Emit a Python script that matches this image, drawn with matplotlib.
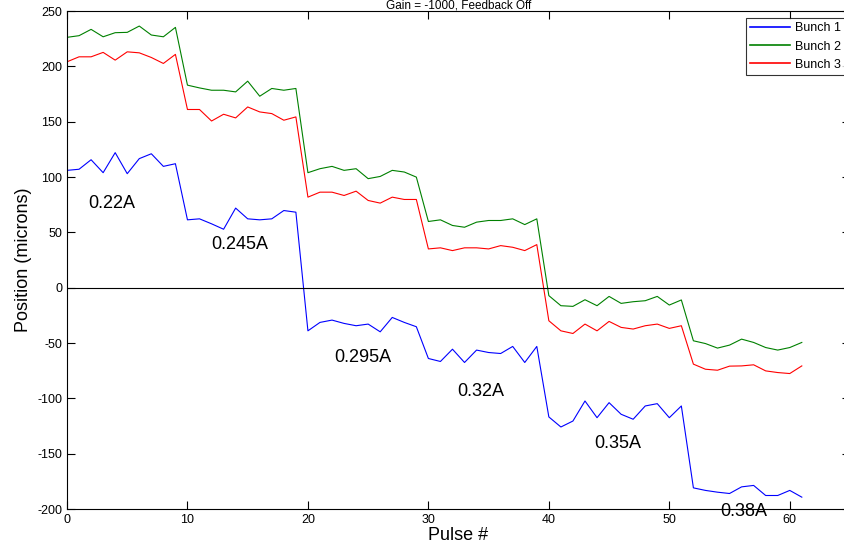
import matplotlib
matplotlib.use("Agg")
import matplotlib.pyplot as plt
import numpy as np

plt.rcParams['font.family'] = ['Liberation Sans', 'DejaVu Sans']
plt.rcParams['axes.unicode_minus'] = False

pulse = list(range(62))

bunch1 = [106, 107, 115.6, 103.9, 122, 103, 116.6, 121, 109.6, 112,
          61.3, 62.2, 57.7, 52.8, 71.9, 62.2, 61.3, 62.2, 69.7, 68.2,
          -39, -31.4, -29.3, -32.3, -34.4, -32.9, -39.9, -26.9, -31.4, -35.3,
          -64, -66.7, -55.6, -67.6, -56.4, -58.6, -59.5, -53.1, -67.6, -53.1,
          -116.8, -125.9, -120.5, -102.4, -117.5, -103.9, -114.4, -118.9, -106.9, -104.8,
          -117.5, -106.9, -180.9, -183.2, -184.8, -186, -180, -178.7, -187.8, -187.8,
          -183.2, -189.3]
bunch2 = [226.2, 227.7, 233.4, 226.7, 230.4, 230.7, 236.4, 228.3, 226.7, 235.2,
          183, 180.5, 178.4, 178.4, 176.9, 186.6, 173, 180, 178.4, 180,
          103.9, 107.5, 109.6, 106, 107.5, 98.5, 100.5, 106, 104.5, 99.9,
          59.8, 61.3, 56.2, 54.6, 59.2, 60.7, 60.7, 62.2, 57, 62.2,
          -7.2, -16.3, -16.9, -10.9, -16.3, -7.9, -14.2, -12.7, -11.8, -7.9,
          -15.7, -11.1, -48, -50.5, -54.6, -51.9, -46.5, -49.5, -54.1, -56.4,
          -54.1, -49.5]
bunch3 = [204.1, 208.6, 208.6, 212.6, 205.6, 213.1, 212.2, 208, 202.6, 210.8,
          161, 161, 150.6, 156.7, 153.4, 163.3, 158.8, 157.3, 151.3, 154.3,
          81.8, 86.3, 86.3, 83.3, 87.2, 78.8, 76.4, 81.8, 79.7, 79.7,
          35, 36, 33.5, 36, 36, 35, 38, 36.5, 33.5, 38.9,
          -29.9, -39, -41.4, -32.9, -39, -30.5, -35.9, -37.4, -34.4, -32.9,
          -36.8, -34.4, -69.1, -73.7, -74.6, -70.9, -70.7, -69.7, -75.2, -76.7,
          -77.6, -70.7]

series_names = ["Bunch 1", "Bunch 2", "Bunch 3"]
series_colors = ["#0000ff", "#008000", "#ff0000"]

current_labels = ["0.22A", "0.245A", "0.295A", "0.32A", "0.35A", "0.38A"]
label_x = [1.8, 12.0, 22.2, 32.4, 43.8, 54.2]
label_y = [76, 39, -63, -94, -141, -202]

title_text = "Gain = -1000, Feedback Off"

fig = plt.figure(figsize=(8.45, 5.5), dpi=100)
ax = fig.add_axes([67/845, 1 - 509/550, (850-67)/845, (509-11)/550])

for vals, name, col in zip([bunch1, bunch2, bunch3], series_names, series_colors):
    ax.plot(pulse, vals, color=col, lw=0.8, label=name)

ax.axhline(0, color='black', lw=0.8)

for t, x, y in zip(current_labels, label_x, label_y):
    ax.text(x, y, t, fontsize=13, va='center', ha='left', zorder=5)

ax.set_xlim(0, 65)
ax.set_ylim(-200, 250)
ax.set_xticks(range(0, 61, 10))
ax.set_yticks(range(-200, 251, 50))
ax.tick_params(direction='in', top=True, right=True, labelsize=9, length=6, width=0.8)
for s in ax.spines.values():
    s.set_linewidth(0.8)

ax.set_xlabel("Pulse #", fontsize=13, labelpad=1)
ax.set_ylabel("Position (microns)", fontsize=13, labelpad=4)
ax.set_title(title_text, fontsize=8.5, pad=1.5)

leg = ax.legend(loc='upper right', bbox_to_anchor=(0.9945, 0.986), fontsize=9,
                frameon=True, fancybox=False, edgecolor='black', handlelength=3.2,
                borderpad=0.35, labelspacing=0.5, handletextpad=0.4, borderaxespad=0)
leg.get_frame().set_linewidth(0.8)
for h in leg.get_lines():
    h.set_linewidth(1.2)

fig.savefig("out.png", dpi=100)
